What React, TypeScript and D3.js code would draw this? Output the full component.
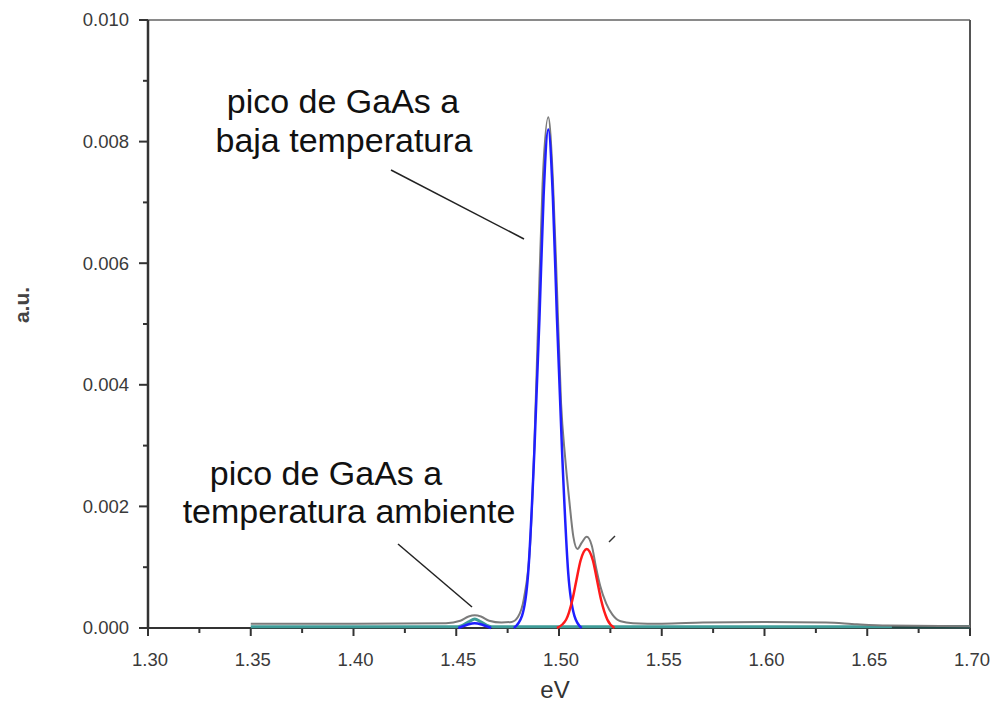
import React from 'react';
import * as d3 from 'd3';

const width = 997;
const height = 717;
const margin = { left: 148, right: 25, top: 20, bottom: 89 };

// x tick labels and y tick labels
const xTicks = [1.30, 1.35, 1.40, 1.45, 1.50, 1.55, 1.60, 1.65, 1.70];
const yTicks = [0, 0.002, 0.004, 0.006, 0.008, 0.010];

// measured spectrum (gray)
const measuredEv = [1.35, 1.40, 1.445, 1.452, 1.456, 1.459, 1.462, 1.466, 1.472, 1.477, 1.480, 1.483, 1.486, 1.488, 1.490, 1.492, 1.4948, 1.497, 1.499, 1.501, 1.503, 1.505, 1.507, 1.509, 1.511, 1.5135, 1.516, 1.518, 1.520, 1.523, 1.526, 1.530, 1.536, 1.55, 1.57, 1.60, 1.63, 1.645, 1.66, 1.70];
const measuredAu = [0.00007, 0.00007, 0.00008, 0.00012, 0.00019, 0.00021, 0.00019, 0.00012, 0.00009, 0.0001, 0.00018, 0.0005, 0.0014, 0.003, 0.0052, 0.0073, 0.0084, 0.0074, 0.0056, 0.0037, 0.0028, 0.0021, 0.0015, 0.0013, 0.0014, 0.0015, 0.00135, 0.001, 0.0007, 0.0004, 0.00022, 0.00011, 0.00008, 0.00007, 0.00009, 0.0001, 0.00009, 0.00006, 0.00004, 0.00003];

// fitted peak, low temperature GaAs (blue)
const blueEv = [1.478, 1.482, 1.485, 1.488, 1.4905, 1.4925, 1.4948, 1.497, 1.499, 1.5015, 1.5045, 1.5075, 1.511];
const blueAu = [0, 0.0002, 0.0009, 0.0029, 0.0051, 0.0071, 0.0082, 0.0071, 0.0051, 0.0029, 0.0009, 0.0002, 0];

// small blue bump, room temperature GaAs
const blueSmallEv = [1.451, 1.455, 1.459, 1.463, 1.467];
const blueSmallAu = [0, 0.00005, 0.00008, 0.00005, 0];

// fitted peak (red)
const redEv = [1.499, 1.5035, 1.5065, 1.5085, 1.5105, 1.5135, 1.5165, 1.5185, 1.5205, 1.5235, 1.527];
const redAu = [0, 0.00014, 0.00046, 0.00079, 0.00111, 0.0013, 0.00111, 0.00079, 0.00046, 0.00014, 0];

// baseline fit (teal)
const tealEv = [1.35, 1.45, 1.452, 1.456, 1.459, 1.462, 1.466, 1.468, 1.70];
const tealAu = [0.00002, 0.00002, 0.00003, 0.0001, 0.00015, 0.0001, 0.00003, 0.00002, 0.00002];

const x = d3.scaleLinear().domain([1.30, 1.70]).range([margin.left, width - margin.right - 2]);
const y = d3.scaleLinear().domain([0, 0.010]).range([height - margin.bottom, margin.top]);

const line = d3.line<[number, number]>()
  .x(d => x(d[0]))
  .y(d => y(d[1]))
  .curve(d3.curveMonotoneX);

const zip = (a: number[], b: number[]) => a.map((v, i) => [v, b[i]] as [number, number]);

const font = '"Liberation Sans", Arial, sans-serif';

function App() {
  const x0 = x(1.30), x1 = x(1.70), y0 = y(0), y1 = y(0.010);
  const xMinor = d3.range(0, 17).map(i => 1.30 + i * 0.025).filter((_, i) => i % 2 === 1);
  const yMinor = d3.range(0, 5).map(i => 0.001 + i * 0.002);

  return (
    <svg width={width} height={height} style={{ position: 'absolute', left: 0, top: 0, background: '#fff' }}>
      {/* frame */}
      <line x1={x0} x2={x1} y1={y1} y2={y1} stroke="#8a8a8a" strokeWidth={2} />
      <line x1={x1} x2={x1} y1={y1} y2={y0} stroke="#555" strokeWidth={2} />

      {/* axes */}
      <line x1={x0} x2={x0} y1={y1} y2={y0} stroke="#333" strokeWidth={2.5} />
      <line x1={x0} x2={x1} y1={y0} y2={y0} stroke="#333" strokeWidth={2} />
      {yTicks.map(t => (
        <g key={'y' + t}>
          <line x1={x0 - 9} x2={x0} y1={y(t)} y2={y(t)} stroke="#333" strokeWidth={2} />
          <text x={x0 - 19} y={y(t)} dy="0.35em" textAnchor="end" fontFamily={font} fontSize={18.5} fill="#3a3a3a">{t.toFixed(3)}</text>
        </g>
      ))}
      {yMinor.map(t => (
        <line key={'ym' + t} x1={x0 - 5} x2={x0} y1={y(t)} y2={y(t)} stroke="#333" strokeWidth={2} />
      ))}
      {xTicks.map(t => (
        <g key={'x' + t}>
          <line x1={x(t)} x2={x(t)} y1={y0} y2={y0 + 8} stroke="#333" strokeWidth={2} />
          <text x={x(t) + 2} y={y0 + 38} textAnchor="middle" fontFamily={font} fontSize={18.5} fill="#3a3a3a">{t.toFixed(2)}</text>
        </g>
      ))}
      {xMinor.map(t => (
        <line key={'xm' + t} x1={x(t)} x2={x(t)} y1={y0} y2={y0 + 5} stroke="#333" strokeWidth={2} />
      ))}

      {/* curves */}
      <path d={line(zip(tealEv, tealAu)) || ''} fill="none" stroke="#3f9c98" strokeWidth={3} />
      <path d={line([[1.662, 0.00002], [1.70, 0.00002]]) || ''} fill="none" stroke="#1f4a47" strokeWidth={2.5} />
      <path d={line(zip(measuredEv, measuredAu)) || ''} fill="none" stroke="#7b7b7b" strokeWidth={2} />
      <path d={line(zip(blueSmallEv, blueSmallAu)) || ''} fill="none" stroke="#1f1fff" strokeWidth={2.5} />
      <path d={line(zip(blueEv, blueAu)) || ''} fill="none" stroke="#1f1fff" strokeWidth={2.5} />
      <path d={line(zip(redEv, redAu)) || ''} fill="none" stroke="#ff1a1a" strokeWidth={2.5} />

      {/* axis titles */}
      <text x={555} y={698} textAnchor="middle" fontFamily={font} fontSize={24} fill="#333">eV</text>
      <text transform="translate(29,305) rotate(-90)" textAnchor="middle" fontFamily={font} fontSize={21} fontWeight="bold" fill="#444">a.u.</text>

      {/* annotations */}
      <text x={343} y={113} textAnchor="middle" fontFamily={font} fontSize={34} fill="#111">pico de GaAs a</text>
      <text x={344} y={152} textAnchor="middle" fontFamily={font} fontSize={34} fill="#111">baja temperatura</text>
      <line x1={391} y1={170} x2={524} y2={239} stroke="#222" strokeWidth={1.5} />

      <text x={326} y={485} textAnchor="middle" fontFamily={font} fontSize={34} fill="#111">pico de GaAs a</text>
      <text x={349} y={523} textAnchor="middle" fontFamily={font} fontSize={34} fill="#111">temperatura ambiente</text>
      <line x1={398} y1={544} x2={472} y2={607} stroke="#222" strokeWidth={1.5} />
      <line x1={609} y1={542} x2={615} y2={536} stroke="#333" strokeWidth={1.5} />
    </svg>
  );
}

export default App;
